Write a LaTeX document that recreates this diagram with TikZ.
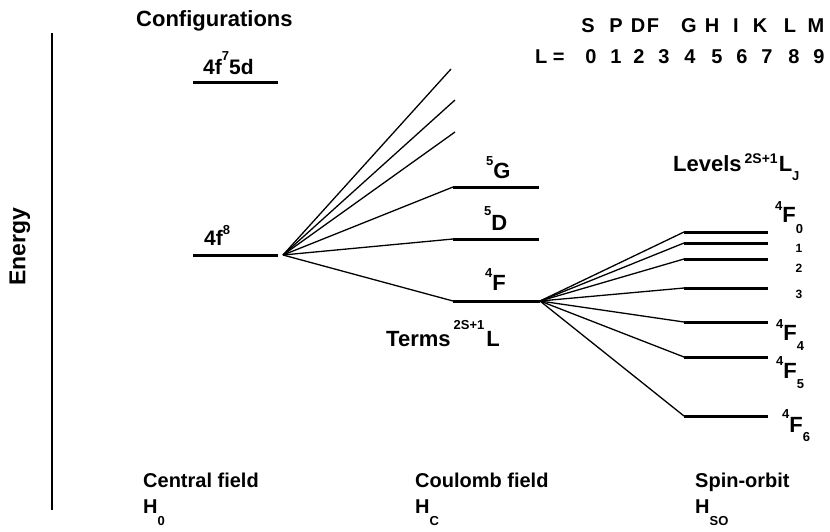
\documentclass[tikz,border=0pt]{standalone}
\usepackage{fontspec}
\setmainfont{Liberation Sans}
% small raised / lowered indices
\newcommand\upsc[3][12]{\raisebox{#2pt}{\fontsize{#1}{#1}\selectfont #3}}
\newcommand\dnsc[3][12]{\raisebox{-#2pt}{\fontsize{#1}{#1}\selectfont #3}}
\begin{document}
\begin{tikzpicture}[x=1pt,y=-1pt,
  lvl/.style={line width=3pt},
  fan/.style={line width=1.3pt},
  axis/.style={line width=1.6pt},
  lab/.style={inner sep=0pt,anchor=base west,font=\bfseries\fontsize{22}{22}\selectfont},
  labs/.style={inner sep=0pt,anchor=base west,font=\bfseries\fontsize{21}{21}\selectfont},
  bot/.style={inner sep=0pt,anchor=base west,font=\bfseries\fontsize{20}{20}\selectfont},
  tab/.style={inner sep=0pt,anchor=base,font=\bfseries\fontsize{20}{20}\selectfont},
  idx/.style={inner sep=0pt,anchor=base,font=\bfseries\fontsize{12}{12}\selectfont}]
\useasboundingbox[fill=white] (0,0) rectangle (830,531);

% energy axis
\coordinate (ax1) at (52,33);
\coordinate (ax2) at (52,510);
\draw[axis] (ax1) -- (ax2);
\node[inner sep=0pt,rotate=90,font=\bfseries\fontsize{23}{23}\selectfont] (energy) at (20,247) {Energy};

% configurations
\coordinate (c1a) at (193,82);  \coordinate (c1b) at (278,82);
\coordinate (c2a) at (193,255); \coordinate (c2b) at (278,255);
\draw[lvl] (c1a) -- (c1b);
\draw[lvl] (c2a) -- (c2b);
\node[lab] (cfg) at (136,26) {Configurations};
\node[labs] (c1lab) at (203,74) {4f\upsc[13]{14}{7}5d};
\node[labs] (c2lab) at (204,245) {4f\upsc[13]{11}{8}};

% Coulomb splitting into terms
\coordinate (fa) at (283,255);
\coordinate (u1) at (451,69);
\coordinate (u2) at (455,100);
\coordinate (u3) at (455,132);
\coordinate (tGa) at (453,187); \coordinate (tGb) at (539,187);
\coordinate (tDa) at (453,239); \coordinate (tDb) at (539,239);
\coordinate (tFa) at (453,301); \coordinate (tFb) at (540,301);
\foreach \e in {u1,u2,u3,tGa,tDa,tFa} \draw[fan] (fa) -- (\e);
\draw[lvl] (tGa) -- (tGb);
\draw[lvl] (tDa) -- (tDb);
\draw[lvl] (tFa) -- (tFb);
\node[lab] (tG) at (486,178) {\upsc[13]{13}{5}G};
\node[lab] (tD) at (484,230) {\upsc[13]{15}{5}D};
\node[lab] (tF) at (485,290) {\upsc[13]{13}{4}F};
\node[lab] (terms) at (386,346) {Terms\hspace{3pt}\upsc[13]{17}{2S+1}\hspace{2pt}L};

% spin-orbit splitting into levels
\foreach \n/\y in {0/232,1/243,2/259,3/288,4/322,5/357,6/416}{
  \coordinate (l\n a) at (684,\y);
  \coordinate (l\n b) at (768,\y);
  \draw[fan] (tFb) -- (l\n a);
  \draw[lvl] (l\n a) -- (l\n b);
}
\node[lab] (levels) at (673,171) {Levels\hspace{3pt}\upsc[14]{8}{2S+1}\hspace{1pt}L\dnsc[13]{9}{J}};
\node[lab] (f0) at (775,222) {\upsc[13]{12}{4}F\dnsc[13]{11}{0}};
\node[idx] (f1) at (799,252) {1};
\node[idx] (f2) at (799,272) {2};
\node[idx] (f3) at (799,298) {3};
\node[lab] (f4) at (776,340) {\upsc[13]{12}{4}F\dnsc[13]{10}{4}};
\node[lab] (f5) at (776,378) {\upsc[13]{13}{4}F\dnsc[13]{10}{5}};
\node[lab] (f6) at (782,432) {\upsc[13]{14}{4}F\dnsc[13]{9}{6}};

% spectroscopic letters and L values
\foreach \x/\t in {588/S,616/P,638/D,653/F,689/G,712/H,736/I,760/K,790/L,816/M}
  \node[tab] (s\t) at (\x,32) {\t};
\node[tab,anchor=base west] (leq) at (535,63) {L =};
\foreach \x/\t in {591/0,616/1,639/2,664/3,690/4,717/5,742/6,767/7,794/8,819/9}
  \node[tab] (v\t) at (\x,63) {\t};

% interactions
\node[bot] (hz) at (143,487) {Central field};
\node[bot] (hzs) at (143,513) {H\dnsc[13]{12}{0}};
\node[bot] (hc) at (415,487) {Coulomb field};
\node[bot] (hcs) at (415,513) {H\dnsc[13]{12}{C}};
\node[bot] (hso) at (695,487) {Spin-orbit};
\node[bot] (hsos) at (695,513) {H\dnsc[13]{12}{SO}};
\end{tikzpicture}
\end{document}
